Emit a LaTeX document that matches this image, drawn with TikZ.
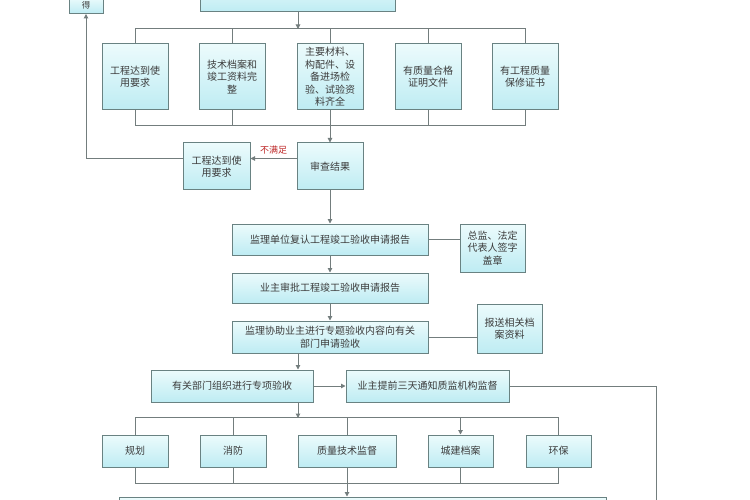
\documentclass[tikz,border=0pt]{standalone}
\usepackage{fontspec}
\newfontfamily\cjk{Noto Sans CJK SC}
\usetikzlibrary{arrows.meta}
\definecolor{boxtop}{RGB}{236,251,252}
\definecolor{boxbot}{RGB}{190,236,243}
\definecolor{bordercol}{RGB}{105,130,130}
\definecolor{linecol}{RGB}{115,125,125}
\definecolor{textcol}{RGB}{60,60,60}
\definecolor{labred}{RGB}{190,40,40}
\tikzset{
  box/.style={draw=bordercol, line width=1pt, top color=boxtop, bottom color=boxbot,
    inner sep=1pt, align=center, text=textcol, font=\cjk\fontsize{10}{12.4}\selectfont},
  conn/.style={draw=linecol, line width=1pt},
  arr/.style={conn, -{Triangle[length=4.5pt,width=4.5pt]}},
}
\begin{document}
\begin{tikzpicture}[x=1pt,y=-1pt]
\useasboundingbox (0,0) rectangle (750,500);
\fill[white] (0,0) rectangle (750,500);
\clip (0,0) rectangle (750,500);
% top
\node[box, minimum width=34pt, minimum height=16pt, inner sep=0pt, font=\cjk\fontsize{8.5}{9}\selectfont] (tl) at (86,5.5) {得};
\node[box, minimum width=195pt, minimum height=34pt] (top) at (297.5,-5) {};
% row 1
\node[box, minimum width=66pt, minimum height=66pt] (r1) at (135,77) {工程达到使\\用要求};
\node[box, minimum width=66pt, minimum height=66pt] (r2) at (232,77) {技术档案和\\竣工资料完\\整};
\node[box, minimum width=66pt, minimum height=66pt] (r3) at (330,77) {主要材料、\\构配件、设\\备进场检\\验、试验资\\料齐全};
\node[box, minimum width=66pt, minimum height=66pt] (r4) at (428,77) {有质量合格\\证明文件};
\node[box, minimum width=66pt, minimum height=66pt] (r5) at (525,77) {有工程质量\\保修证书};
% review
\node[box, minimum width=66pt, minimum height=47pt] (review) at (330,166.5) {审查结果};
\node[box, minimum width=67pt, minimum height=47pt] (leftreq) at (216.5,166.5) {工程达到使\\用要求};
% middle chain
\node[box, minimum width=196pt, minimum height=31pt] (sign) at (330,239.5) {监理单位复认工程竣工验收申请报告};
\node[box, minimum width=65pt, minimum height=48pt] (signR) at (492.5,248) {总监、法定\\代表人签字\\盖章};
\node[box, minimum width=196pt, minimum height=30pt] (approve) at (330,288) {业主审批工程竣工验收申请报告};
\node[box, minimum width=196pt, minimum height=32pt] (assist) at (330,337) {监理协助业主进行专题验收内容向有关\\部门申请验收};
\node[box, minimum width=65pt, minimum height=49pt] (assistR) at (509.5,328.5) {报送相关档\\案资料};
\node[box, minimum width=162pt, minimum height=32pt] (org) at (232,386) {有关部门组织进行专项验收};
\node[box, minimum width=163pt, minimum height=32pt] (notify) at (427.5,386) {业主提前三天通知质监机构监督};
% special row
\node[box, minimum width=66pt, minimum height=32pt] (s1) at (135,451) {规划};
\node[box, minimum width=66pt, minimum height=32pt] (s2) at (233,451) {消防};
\node[box, minimum width=98pt, minimum height=32pt] (s3) at (347,451) {质量技术监督};
\node[box, minimum width=65pt, minimum height=32pt] (s4) at (460.5,451) {城建档案};
\node[box, minimum width=65pt, minimum height=32pt] (s5) at (558.5,451) {环保};
\node[box, minimum width=487pt, minimum height=33pt] (bottom) at (362.5,513.5) {};
% coordinates
\coordinate (busA) at (298,29);
\coordinate (a1) at (298,353);
\coordinate (a2) at (298,402);
\coordinate (busC) at (298,418);
\coordinate (rc) at (656,505);
% connectors top
\draw[arr] (top.south -| busA) -- (busA);
\draw[conn] (r1.north) -- ++(0,-15) -| (r5.north);
\draw[conn] (r2.north) -- ++(0,-15);
\draw[conn] (r3.north) -- ++(0,-15);
\draw[conn] (r4.north) -- ++(0,-15);
\draw[conn] (r1.south) -- ++(0,15) -| (r5.south);
\draw[conn] (r2.south) -- ++(0,15);
\draw[conn] (r4.south) -- ++(0,15);
\draw[arr] (r3.south) -- (review.north);
\draw[arr] ([yshift=8pt]review.west) -- ([yshift=8pt]leftreq.east)
  node[midway, above=0pt, text=labred, font=\cjk\fontsize{9}{10}\selectfont] {不满足};
\draw[arr] ([yshift=8pt]leftreq.west) -| (tl.south);
% middle
\draw[arr] (review.south) -- (sign.north);
\draw[conn] (sign.east) -- (sign.east -| signR.west);
\draw[arr] (sign.south) -- (approve.north);
\draw[arr] (approve.south) -- (assist.north);
\draw[conn] (assist.east) -- (assist.east -| assistR.west);
\draw[arr] (a1) -- (a1 |- org.north);
\draw[arr] (org.east) -- (notify.west);
\draw[conn] (notify.east) -| (rc);
\draw[arr] (a2) -- (busC);
% special row buses
\draw[conn] (s1.north) -- ++(0,-17) -| (s5.north);
\draw[conn] (s2.north) -- ++(0,-17);
\draw[conn] (s3.north) -- ++(0,-17);
\draw[arr] (s4.north) ++(0,-17) -- (s4.north);
\draw[conn] (s1.south) -- ++(0,16) -| (s5.south);
\draw[conn] (s2.south) -- ++(0,16);
\draw[conn] (s4.south) -- ++(0,16);
\draw[arr] (s3.south) -- (s3.south |- bottom.north);
\end{tikzpicture}
\end{document}
